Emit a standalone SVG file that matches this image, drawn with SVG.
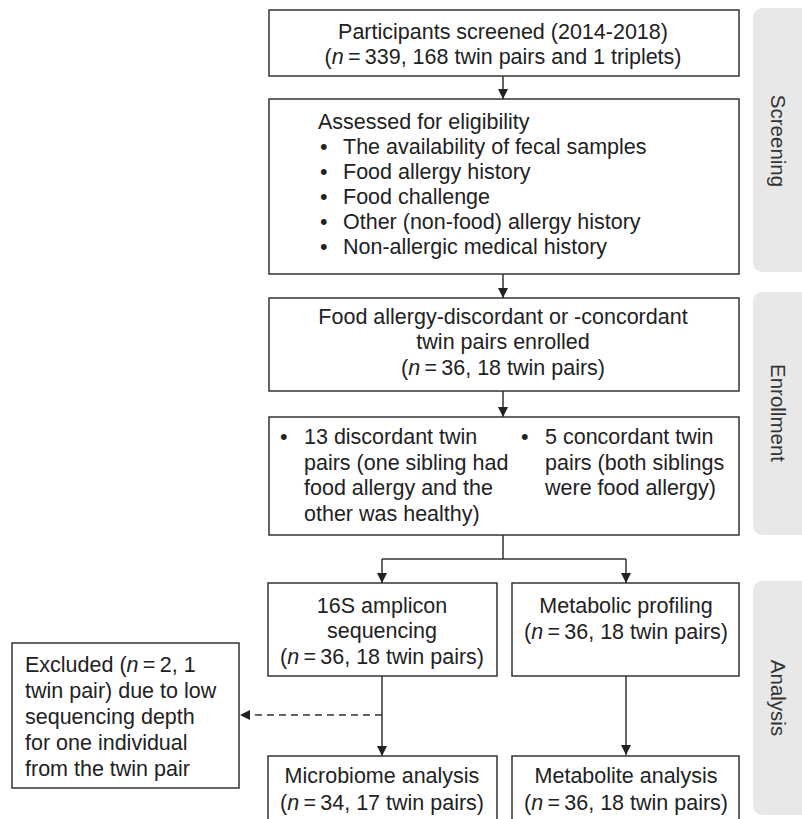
<svg xmlns="http://www.w3.org/2000/svg" width="802" height="819" viewBox="0 0 802 819">
<style>
.box{fill:#fff;stroke:#333;stroke-width:1.5}
.t{font-family:"Liberation Sans",Arial,sans-serif;font-size:21.5px;fill:#222}
.c{text-anchor:middle}
.panel{fill:#e8e8e8}
.pl{font-family:"Liberation Sans",Arial,sans-serif;font-size:20.5px;fill:#333;text-anchor:middle}
.ln{fill:none;stroke:#333;stroke-width:1.5}
.i{font-style:italic}
</style>
<defs>
<marker id="ah" viewBox="0 0 10 10" refX="10" refY="5" markerWidth="10" markerHeight="10" markerUnits="userSpaceOnUse" orient="auto">
<path d="M0,0 L10,5 L0,10 z" fill="#222"/>
</marker>
</defs>
<g id="panels">
<g id="panel-screening"><rect class="panel" x="753" y="8" width="60" height="264" rx="9"/><text class="pl" transform="translate(771,141) rotate(90)">Screening</text></g>
<g id="panel-enrollment"><rect class="panel" x="753" y="292" width="60" height="243" rx="9"/><text class="pl" transform="translate(771,413) rotate(90)">Enrollment</text></g>
<g id="panel-analysis"><rect class="panel" x="753" y="581" width="60" height="234" rx="9"/><text class="pl" transform="translate(771,698) rotate(90)">Analysis</text></g>
</g>
<g id="connectors">
<line class="ln" x1="503" y1="76" x2="503" y2="99" marker-end="url(#ah)"/>
<line class="ln" x1="503" y1="274" x2="503" y2="298" marker-end="url(#ah)"/>
<line class="ln" x1="503" y1="391" x2="503" y2="417" marker-end="url(#ah)"/>
<path class="ln" d="M503,535 V559"/>
<path class="ln" d="M382,559 H626"/>
<line class="ln" x1="382" y1="559" x2="382" y2="583" marker-end="url(#ah)"/>
<line class="ln" x1="626" y1="559" x2="626" y2="583" marker-end="url(#ah)"/>
<line class="ln" x1="382" y1="676" x2="382" y2="756" marker-end="url(#ah)"/>
<line class="ln" x1="626" y1="676" x2="626" y2="755" marker-end="url(#ah)"/>
<line class="ln" x1="382" y1="715" x2="240" y2="715" stroke-dasharray="7,5" marker-end="url(#ah)"/>
</g>
<g id="n-screened">
<rect class="box" x="269" y="10" width="470" height="66"/>
<text class="t c" x="503" y="39">Participants screened (2014-2018)</text>
<text class="t c" x="503" y="64">(<tspan class="i">n</tspan>&#8201;=&#8201;339, 168 twin pairs and 1 triplets)</text>
</g>
<g id="n-eligibility">
<rect class="box" x="269" y="99" width="470" height="175"/>
<text class="t" x="318" y="129">Assessed for eligibility</text>
<text class="t" x="320" y="154">•</text><text class="t" x="343" y="154">The availability of fecal samples</text>
<text class="t" x="320" y="179">•</text><text class="t" x="343" y="179">Food allergy history</text>
<text class="t" x="320" y="204">•</text><text class="t" x="343" y="204">Food challenge</text>
<text class="t" x="320" y="229">•</text><text class="t" x="343" y="229">Other (non-food) allergy history</text>
<text class="t" x="320" y="254">•</text><text class="t" x="343" y="254">Non-allergic medical history</text>
</g>
<g id="n-enrolled">
<rect class="box" x="269" y="298" width="470" height="93"/>
<text class="t c" x="503" y="324">Food allergy-discordant or -concordant</text>
<text class="t c" x="503" y="349">twin pairs enrolled</text>
<text class="t c" x="503" y="375">(<tspan class="i">n</tspan>&#8201;=&#8201;36, 18 twin pairs)</text>
</g>
<g id="n-groups">
<rect class="box" x="269" y="417" width="470" height="118"/>
<text class="t" x="280" y="444">•</text>
<text class="t" x="304" y="444">13 discordant twin</text>
<text class="t" x="304" y="470">pairs (one sibling had</text>
<text class="t" x="304" y="495">food allergy and the</text>
<text class="t" x="304" y="521">other was healthy)</text>
<text class="t" x="521" y="444">•</text>
<text class="t" x="545" y="444">5 concordant twin</text>
<text class="t" x="545" y="470">pairs (both siblings</text>
<text class="t" x="545" y="495">were food allergy)</text>
</g>
<g id="n-16s">
<rect class="box" x="268" y="583" width="229" height="93"/>
<text class="t c" x="382" y="613">16S amplicon</text>
<text class="t c" x="382" y="638">sequencing</text>
<text class="t c" x="382" y="664">(<tspan class="i">n</tspan>&#8201;=&#8201;36, 18 twin pairs)</text>
</g>
<g id="n-metabolic">
<rect class="box" x="512" y="583" width="227" height="93"/>
<text class="t c" x="626" y="613">Metabolic profiling</text>
<text class="t c" x="626" y="639">(<tspan class="i">n</tspan>&#8201;=&#8201;36, 18 twin pairs)</text>
</g>
<g id="n-excluded">
<rect class="box" x="12" y="643" width="227" height="145"/>
<text class="t" x="25" y="672">Excluded (<tspan class="i">n</tspan>&#8201;=&#8201;2, 1</text>
<text class="t" x="25" y="698">twin pair) due to low</text>
<text class="t" x="25" y="724">sequencing depth</text>
<text class="t" x="25" y="750">for one individual</text>
<text class="t" x="25" y="776">from the twin pair</text>
</g>
<g id="n-microbiome">
<rect class="box" x="268" y="756" width="229" height="70"/>
<text class="t c" x="382" y="783">Microbiome analysis</text>
<text class="t c" x="382" y="810">(<tspan class="i">n</tspan>&#8201;=&#8201;34, 17 twin pairs)</text>
</g>
<g id="n-metabolite">
<rect class="box" x="512" y="756" width="227" height="70"/>
<text class="t c" x="626" y="783">Metabolite analysis</text>
<text class="t c" x="626" y="810">(<tspan class="i">n</tspan>&#8201;=&#8201;36, 18 twin pairs)</text>
</g>
</svg>
